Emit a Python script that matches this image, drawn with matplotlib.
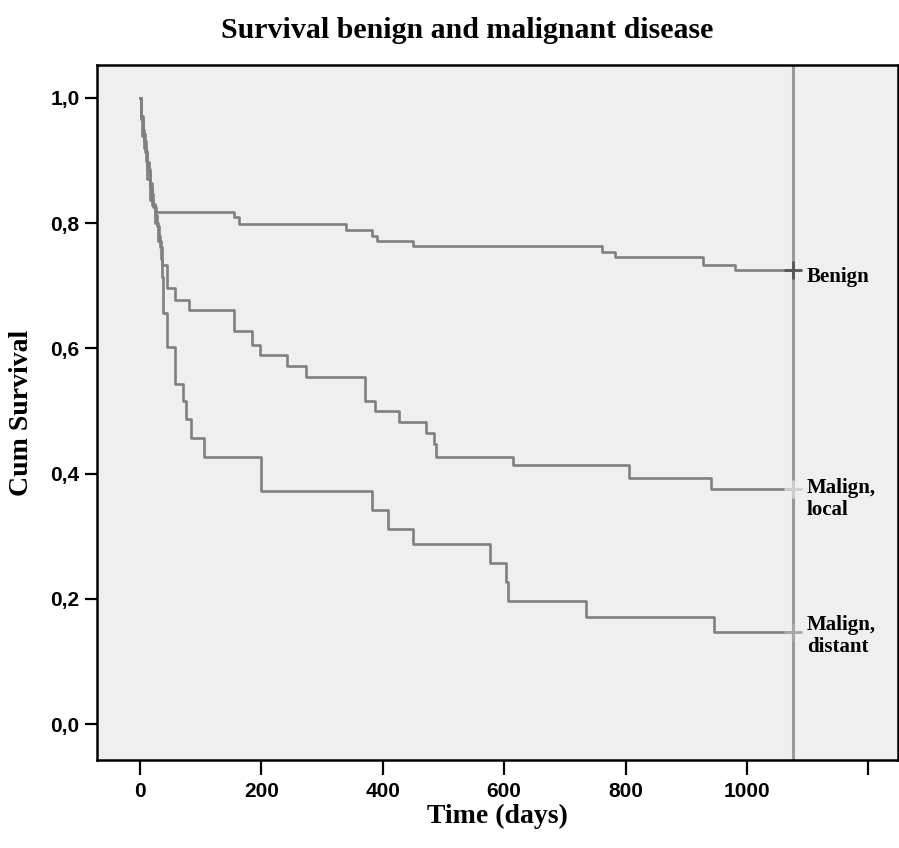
import numpy as np
import matplotlib.pyplot as plt

# Kaplan-Meier steps (days, cum survival)
benign_t = [0, 1, 3, 6, 9, 12, 16, 22, 26, 155, 163, 339, 383, 391, 449, 761, 783, 928, 981]
benign_s = [1.0, 0.97, 0.94, 0.92, 0.90, 0.87, 0.837, 0.826, 0.818, 0.810, 0.798,
            0.789, 0.780, 0.772, 0.763, 0.7545, 0.746, 0.733, 0.725]

local_t = [0, 2, 4, 7, 9, 12, 14, 16, 19, 22, 25, 28, 31, 33, 36, 44, 58, 80, 154, 184,
           198, 242, 273, 370, 387, 427, 471, 484, 488, 615, 805, 941]
local_s = [1.0, 0.966, 0.949, 0.932, 0.915, 0.898, 0.881, 0.864, 0.847, 0.83, 0.813,
           0.796, 0.779, 0.762, 0.733, 0.696, 0.678, 0.661, 0.627, 0.605, 0.589, 0.572,
           0.555, 0.5165, 0.4995, 0.482, 0.465, 0.447, 0.427, 0.414, 0.3935, 0.376]

distant_t = [0, 2, 5, 8, 12, 16, 20, 25, 30, 34, 36, 38, 44, 58, 71, 75, 84, 106, 200,
             383, 409, 449, 576, 603, 607, 735, 945]
distant_s = [1.0, 0.971, 0.943, 0.914, 0.886, 0.857, 0.829, 0.80, 0.771, 0.743, 0.714,
             0.657, 0.603, 0.543, 0.516, 0.487, 0.457, 0.427, 0.372, 0.342, 0.312, 0.287,
             0.257, 0.227, 0.197, 0.171, 0.147]

censor_day = 1076
group_labels = ['Benign', 'Malign,\nlocal', 'Malign,\ndistant']
censor_colors = ['#555555', '#cfcfcf', '#a8a8a8']

x_ticks = [0, 200, 400, 600, 800, 1000, 1200]
x_ticklabels = ['0', '200', '400', '600', '800', '1000', '']
y_ticks = [0.0, 0.2, 0.4, 0.6, 0.8, 1.0]
y_ticklabels = ['0,0', '0,2', '0,4', '0,6', '0,8', '1,0']

serif = 'Liberation Serif'
sans = 'Liberation Sans'

fig = plt.figure(figsize=(8.99, 8.48), dpi=100)
ax = fig.add_axes([97/899, 1-760/848, 801/899, 695/848])
ax.set_facecolor('#efefef')

curves = [(benign_t, benign_s), (local_t, local_s), (distant_t, distant_s)]
label_y = [0.714, 0.393, 0.174]
for i, (t, s) in enumerate(curves):
    tt = list(t) + [censor_day]
    ss = list(s) + [s[-1]]
    ax.step(tt, ss, where='post', color='#808080', lw=1.9, zorder=3)
    ax.plot([censor_day], [s[-1]], marker='+', ms=13, mew=2, color=censor_colors[i], zorder=4)
    va = 'center' if i == 0 else 'top'
    ax.text(1099, label_y[i], group_labels[i], fontsize=15, fontweight='bold',
            family=serif, va=va, ha='left', linespacing=1.15)

ax.axvline(censor_day, color='#999999', lw=2.2, zorder=2)

ax.set_xlim(-71, 1249)
ax.set_ylim(-0.0575, 1.0527)
ax.set_xticks(x_ticks)
ax.set_xticklabels(x_ticklabels, fontsize=15, fontweight='bold', family=sans)
ax.set_yticks(y_ticks)
ax.set_yticklabels(y_ticklabels, fontsize=15, fontweight='bold', family=sans)
ax.tick_params(axis='x', length=11, width=1.6, pad=5)
ax.tick_params(axis='y', length=8.5, width=1.6, pad=4)
for sp in ax.spines.values():
    sp.set_linewidth(1.8)

ax.set_xlabel('Time (days)', fontsize=20, fontweight='bold', family=serif, labelpad=2)
ax.set_ylabel('Cum Survival', fontsize=20, fontweight='bold', family=serif, labelpad=12)
fig.text(467/899, 1-30/848, 'Survival benign and malignant disease', fontsize=21.5,
         fontweight='bold', family=serif, ha='center', va='center')

fig.savefig('out.png', dpi=100)
